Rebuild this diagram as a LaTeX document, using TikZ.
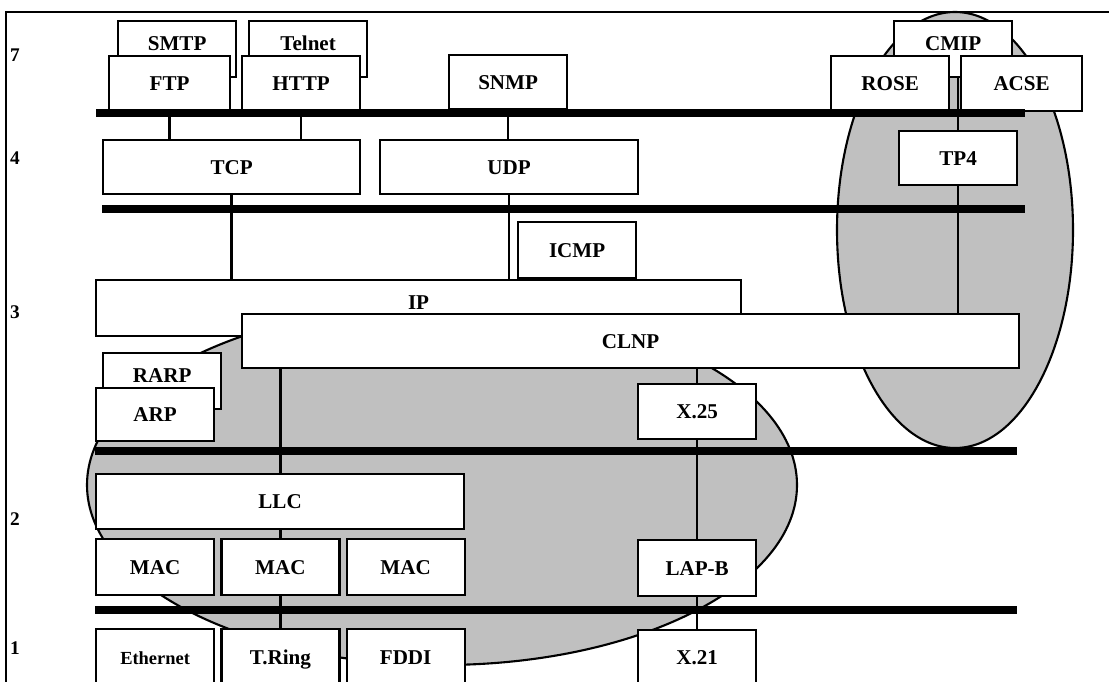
\documentclass[tikz,border=0pt]{standalone}
\usepackage{fontspec}
\setmainfont{Liberation Serif}
\usepackage{xcolor}
\usepackage{tikz}
\usetikzlibrary{positioning}

\definecolor{shade}{RGB}{192,192,192}

\begin{document}
\begin{tikzpicture}[x=0.02cm, y=-0.02cm,
    box/.style={draw, fill=white, line width=1.3pt, anchor=north west, inner sep=0pt,
      font=\fontsize{12}{14}\selectfont\bfseries, text height=0.3cm, text depth=0.02cm},
    cell/.style={box, minimum width=2.36cm, minimum height=1.12cm},
    upper/.style={text depth=0.24cm},
    bar/.style={line width=4.5pt},
    link/.style={line width=1.4pt},
    blob/.style={draw, line width=1.2pt, fill=shade},
    layer/.style={font=\fontsize{11}{13}\selectfont\bfseries}]
    \useasboundingbox (0,0) rectangle (1109,682);
    \clip (0,0) rectangle (1109,682);
    \fill[white] (0,0) rectangle (1109,682);
    \draw[line width=0.8pt] (6,682) -- (6,12) -- (1109,12);

    % shaded families
    \draw[blob] (955,230) ellipse [x radius=118, y radius=218];
    \draw[blob] (442,485) ellipse [x radius=355, y radius=180];

    % layer numbers
    \node[layer] (n7) at (15,55) {7};
    \node[layer] (n4) at (15,158) {4};
    \node[layer] (n3) at (15,312) {3};
    \node[layer] (n2) at (15,519) {2};
    \node[layer] (n1) at (15,648) {1};

    % layer 7
    \node[cell, upper] (smtp) at (117,20) {SMTP};
    \node[cell, upper] (telnet) at (248,20) {Telnet};
    \node[cell, minimum width=2.42cm, minimum height=1.1cm] (ftp) at (108,55) {FTP};
    \node[cell, minimum height=1.1cm] (http) at (241,55) {HTTP};
    \node[cell, minimum height=1.08cm] (snmp) at (448,54) {SNMP};
    \node[cell, upper] (cmip) at (893,20) {CMIP};
    \node[cell, minimum height=1.1cm] (rose) at (830,55) {ROSE};
    \node[cell, minimum width=2.42cm, minimum height=1.1cm] (acse) at (960,55) {ACSE};

    % layer 4
    \node[box, minimum width=5.14cm, minimum height=1.08cm] (tcp) at (102,139) {TCP};
    \node[box, minimum width=5.16cm, minimum height=1.08cm] (udp) at (379,139) {UDP};
    \node[cell, minimum height=1.08cm] (tp4) at (898,130) {TP4};

    % layer 3
    \node[cell] (icmp) at (517,221) {ICMP};
    \node[box, upper, minimum width=12.9cm, minimum height=1.12cm] (ip) at (95,279) {IP};
    \node[box, minimum width=15.54cm, minimum height=1.08cm] (clnp) at (241,313) {CLNP};
    \node[cell, upper] (rarp) at (102,352) {RARP};
    \node[cell, minimum height=1.06cm] (arp) at (95,387) {ARP};
    \node[cell, minimum height=1.1cm] (x25) at (637,383) {X.25};

    % layer 2
    \node[box, minimum width=7.36cm, minimum height=1.1cm] (llc) at (95,473) {LLC};
    \node[cell] (mac1) at (95,538) {MAC};
    \node[cell, right=0.1cm of mac1] (mac2) {MAC};
    \node[cell, right=0.1cm of mac2] (mac3) {MAC};
    \node[cell] (lapb) at (637,539) {LAP-B};

    % layer 1
    \node[cell, font=\fontsize{10.5}{12}\selectfont\bfseries] (eth) at (95,628) {Ethernet};
    \node[cell, right=0.1cm of eth] (tring) {T.Ring};
    \node[cell, right=0.1cm of tring] (fddi) {FDDI};
    \node[cell, minimum height=1.1cm] (x21) at (637,629) {X.21};

    % connections
    \draw[link] (ftp.south) -- (ftp.south |- tcp.north);
    \draw[link] (http.south) -- (http.south |- tcp.north);
    \draw[link] (snmp.south) -- (snmp.south |- udp.north);
    \draw[link] (tcp.south) -- (tcp.south |- ip.north);
    \draw[link] (udp.south) -- (udp.south |- ip.north);
    \draw[link] (tp4.north |- cmip.south) -- (tp4.north);
    \draw[link] (tp4.south) -- (tp4.south |- clnp.north);
    \draw[link] (x25.north |- clnp.south) -- (x25.north);
    \draw[link] (x25.south) -- (lapb.north);
    \draw[link] (lapb.south) -- (x21.north);
    \draw[link] (mac2.north |- clnp.south) -- (mac2.north |- llc.north);
    \draw[link] (mac2.north |- llc.south) -- (mac2.north);
    \draw[link] (mac2.south) -- (tring.north);

    % layer bars
    \draw[bar] (96,113) -- (1025,113);
    \draw[bar] (102,209) -- (1025,209);
    \draw[bar] (95,451) -- (1017,451);
    \draw[bar] (95,610) -- (1017,610);
\end{tikzpicture}
\end{document}
